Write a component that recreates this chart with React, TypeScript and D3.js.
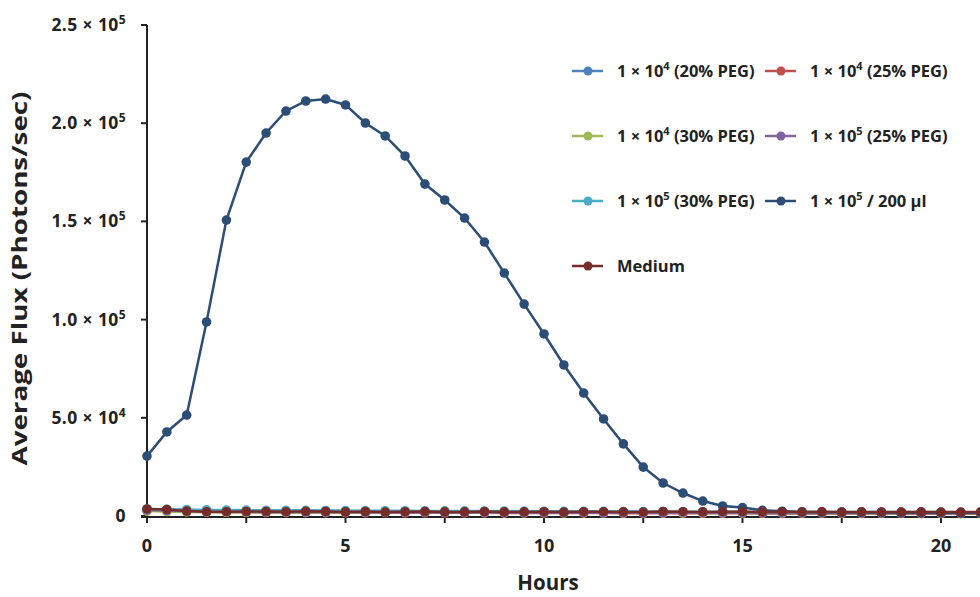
import React from "react";
import * as d3 from "d3";

const hours: number[] = Array.from({ length: 43 }, (_, i) => i * 0.5);

const seriesNames = [
  "1e4_20",
  "1e4_25",
  "1e4_30",
  "1e5_25",
  "1e5_30",
  "1e5_200",
  "medium",
];

const s1e4_20: number[] = [3200, 3000, 2900, 2800, 2700, 2700, 2600, 2600, 2500, 2500, 2400, 2400, 2400, 2300, 2300, 2300, 2200, 2200, 2200, 2100, 2100, 2100, 2000, 2000, 2000, 2000, 1900, 1900, 1900, 1900, 1800, 1800, 1800, 1800, 1800, 1700, 1700, 1700, 1700, 1700, 1600, 1600, 1600];
const s1e4_25: number[] = [2800, 2600, 2200, 2000, 1900, 1900, 1800, 1800, 1800, 1700, 1700, 1700, 1700, 1600, 1600, 1600, 1600, 1600, 1500, 1500, 1500, 1500, 1500, 1500, 1400, 1400, 1400, 1400, 1400, 1400, 1400, 1300, 1300, 1300, 1300, 1300, 1300, 1300, 1300, 1200, 1200, 1200, 1200];
const s1e4_30: number[] = [2500, 2300, 2100, 2000, 1900, 1900, 1900, 1800, 1800, 1800, 1800, 1800, 1900, 2000, 2000, 1900, 1800, 1800, 1700, 1700, 1700, 1700, 1700, 1600, 1600, 1600, 1600, 1600, 1500, 1500, 1500, 1500, 1500, 1500, 1500, 1400, 1400, 1400, 1400, 1400, 1400, 1400, 1400];
const s1e5_25: number[] = [3000, 2800, 2500, 2300, 2200, 2200, 2100, 2100, 2000, 2000, 2000, 1900, 1900, 1900, 1800, 1800, 1800, 1800, 1700, 1700, 1700, 1700, 1700, 1600, 1600, 1600, 1600, 1800, 1700, 1600, 1600, 1500, 1500, 1500, 1500, 1500, 1500, 1500, 1400, 1400, 1400, 1400, 1400];
const s1e5_30: number[] = [3600, 3400, 3300, 3100, 3000, 3000, 2900, 2900, 2900, 2800, 2800, 2700, 2700, 2700, 2600, 2600, 2600, 2500, 2500, 2500, 2400, 2400, 2400, 2400, 2300, 2300, 2300, 2200, 2200, 2200, 2200, 2100, 2100, 2100, 2100, 2100, 2000, 2000, 2000, 2000, 2000, 1900, 1900];
const s1e5_200: number[] = [30500, 42800, 51400, 98800, 150700, 180200, 195000, 206200, 211300, 212300, 209300, 200100, 193500, 183300, 169000, 160900, 151700, 139500, 123700, 107900, 92700, 76900, 62600, 49400, 36700, 24900, 16800, 11700, 7600, 5100, 4300, 2900, 2400, 2100, 2000, 1900, 1800, 1800, 1700, 1700, 1700, 1600, 1600];
const sMedium: number[] = [3600, 3300, 2500, 2200, 2200, 2300, 2300, 2200, 2400, 2300, 2100, 2300, 2000, 2200, 2300, 2100, 2100, 2300, 2100, 2100, 2200, 2000, 2200, 2200, 2100, 2000, 2300, 2200, 2100, 2200, 2200, 2000, 2200, 2000, 2100, 2000, 2100, 2000, 2000, 2100, 2000, 2000, 2100];

const seriesValues: number[][] = [s1e4_20, s1e4_25, s1e4_30, s1e5_25, s1e5_30, s1e5_200, sMedium];
const seriesColors = ["#4F81BD", "#C0504D", "#9BBB59", "#8064A2", "#4BACC6", "#2C4D75", "#772C2A"];

// legend labels: [base, exponent, suffix]
const legendLabels: [string, string, string][] = [
  ["1 × 10", "4", " (20% PEG)"],
  ["1 × 10", "4", " (25% PEG)"],
  ["1 × 10", "4", " (30% PEG)"],
  ["1 × 10", "5", " (25% PEG)"],
  ["1 × 10", "5", " (30% PEG)"],
  ["1 × 10", "5", " / 200 µl"],
  ["Medium", "", ""],
];

const yTickValues = [0, 50000, 100000, 150000, 200000, 250000];
const yTickLabels: [string, string][] = [
  ["0", ""],
  ["5.0 × 10", "4"],
  ["1.0 × 10", "5"],
  ["1.5 × 10", "5"],
  ["2.0 × 10", "5"],
  ["2.5 × 10", "5"],
];
const xTickValues = [0, 2.5, 5, 7.5, 10, 12.5, 15, 17.5, 20];
const xLabelValues = [0, 5, 10, 15, 20];

const W = 980;
const H = 597;
const FONT = "'Open Sans', 'Liberation Sans', sans-serif";

export default function App() {
  const x = d3.scaleLinear().domain([0, 21]).range([147, 980.7]);
  const y = d3.scaleLinear().domain([0, 250000]).range([516, 25]);
  const line = d3
    .line<number>()
    .x((_, i) => x(hours[i]))
    .y((d) => y(d));

  const legendCols = [572, 765];
  const legendRows = [71, 136, 201, 266];

  return (
    <svg
      width={W}
      height={H}
      style={{ position: "absolute", left: 0, top: 0, background: "#fff" }}
      fontFamily={FONT}
    >
      <rect width={W} height={H} fill="#fff" />
      {/* axes */}
      <line x1={147} x2={147} y1={y(250000)} y2={y(0) + 2} stroke="#222" strokeWidth={2} />
      <line x1={141} x2={W} y1={y(0) + 1} y2={y(0) + 1} stroke="#222" strokeWidth={2} />
      {yTickValues.map((v, i) => (
        <g key={"yt" + i}>
          <line x1={141} x2={147} y1={y(v)} y2={y(v)} stroke="#222" strokeWidth={2} />
          <text
            x={126}
            y={y(v) + 6}
            textAnchor="end"
            fontSize={17.5}
            fontWeight="bold"
            letterSpacing={0.4}
            fill="#222"
          >
            {yTickLabels[i][0]}
            {yTickLabels[i][1] && (
              <tspan dy={-7} fontSize={12}>
                {yTickLabels[i][1]}
              </tspan>
            )}
          </text>
        </g>
      ))}
      {xTickValues.map((v, i) => (
        <line key={"xt" + i} x1={x(v)} x2={x(v)} y1={y(0)} y2={y(0) + 7} stroke="#222" strokeWidth={2} />
      ))}
      {xLabelValues.map((v, i) => (
        <text key={"xl" + i} x={x(v)} y={552} textAnchor="middle" fontSize={18} fontWeight="bold" fill="#222">
          {v}
        </text>
      ))}
      <text x={548} y={590} textAnchor="middle" fontSize={20.5} fontWeight="bold" fill="#222">
        Hours
      </text>
      <text
        transform={`translate(27, 278.5) rotate(-90)`}
        textAnchor="middle"
        fontSize={21}
        fontWeight="bold"
        fill="#222"
        textLength={374}
        lengthAdjust="spacingAndGlyphs"
      >
        Average Flux (Photons/sec)
      </text>

      {/* series */}
      {seriesValues.map((vals, si) => (
        <g key={seriesNames[si]}>
          <path d={line(vals) || ""} fill="none" stroke={seriesColors[si]} strokeWidth={2.5} />
          {vals.map((v, i) => (
            <circle key={i} cx={x(hours[i])} cy={y(v)} r={4.8} fill={seriesColors[si]} />
          ))}
        </g>
      ))}

      {/* legend */}
      {legendLabels.map((lab, i) => {
        const cx = legendCols[i % 2];
        const cy = legendRows[Math.floor(i / 2)];
        return (
          <g key={"lg" + i}>
            <line x1={cx} x2={cx + 31} y1={cy} y2={cy} stroke={seriesColors[i]} strokeWidth={2.5} />
            <circle cx={cx + 16} cy={cy} r={4.5} fill={seriesColors[i]} />
            <text x={cx + 45} y={cy + 6} fontSize={16.5} fontWeight="bold" fill="#222">
              {lab[0]}
              {lab[1] && (
                <tspan dy={-7} fontSize={11}>
                  {lab[1]}
                </tspan>
              )}
              {lab[2] && <tspan dy={lab[1] ? 7 : 0}>{lab[2]}</tspan>}
            </text>
          </g>
        );
      })}
    </svg>
  );
}
